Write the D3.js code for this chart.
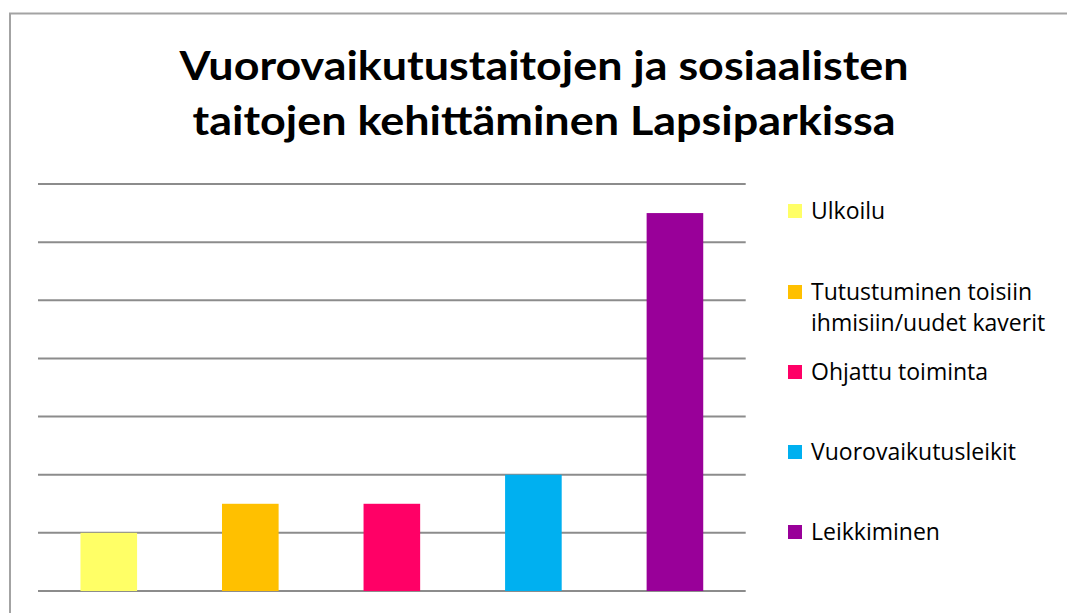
<!DOCTYPE html>
<html>
<head>
<meta charset="utf-8">
<script src="https://cdn.jsdelivr.net/npm/d3@7"></script>
<style>
  html, body { margin: 0; padding: 0; background: #fff; }
  svg { display: block; }
</style>
</head>
<body>
<svg class="chart" width="1067" height="613"></svg>
<script>
// data
var categories = ["Ulkoilu", "Tutustuminen toisiin ihmisiin/uudet kaverit", "Ohjattu toiminta", "Vuorovaikutusleikit", "Leikkiminen"];
var values = [1, 1.5, 1.5, 2, 6.5];
var colors = ["#FFFF66", "#FFC000", "#FF0066", "#00B0F0", "#990099"];
var legendLines = [["Ulkoilu"], ["Tutustuminen toisiin", "ihmisiin/uudet kaverit"], ["Ohjattu toiminta"], ["Vuorovaikutusleikit"], ["Leikkiminen"]];
var gridTicks = [0, 1, 2, 3, 4, 5, 6, 7];
var titleLines = ["Vuorovaikutustaitojen ja sosiaalisten", "taitojen kehittäminen Lapsiparkissa"];

var svg = d3.select(".chart");

// outer frame (only top and left edges are visible in the window)
svg.append("rect")
    .attr("x", 10).attr("y", 13.5)
    .attr("width", 1100).attr("height", 700)
    .attr("fill", "none")
    .attr("stroke", "#a3a3a3")
    .attr("stroke-width", 2);

// title
var title = svg.append("g");
title.selectAll("text")
    .data(titleLines)
    .enter().append("text")
    .attr("x", 544)
    .attr("y", function(d, i) { return 80 + i * 55; })
    .attr("text-anchor", "middle")
    .attr("font-family", "Lato, 'Open Sans', sans-serif")
    .attr("font-weight", "bold")
    .attr("font-size", 41)
    .attr("textLength", function(d, i) { return i == 0 ? 729 : 703; })
    .attr("lengthAdjust", "spacingAndGlyphs")
    .attr("fill", "#000")
    .text(function(d) { return d; });

// scales
var x = d3.scaleBand()
    .domain(categories)
    .range([38, 745.7])
    .paddingInner(0.6)
    .paddingOuter(0.3);

var y = d3.scaleLinear()
    .domain([0, 7])
    .range([591, 184]);

// gridlines
svg.append("g")
    .selectAll("line")
    .data(gridTicks)
    .enter().append("line")
    .attr("x1", 38).attr("x2", 745.7)
    .attr("y1", function(d) { return y(d); })
    .attr("y2", function(d) { return y(d); })
    .attr("stroke", "#8c8c8c")
    .attr("stroke-width", 2);

// bars
svg.append("g")
    .selectAll("rect")
    .data(values)
    .enter().append("rect")
    .attr("x", function(d, i) { return x(categories[i]); })
    .attr("y", function(d) { return y(d); })
    .attr("width", x.bandwidth())
    .attr("height", function(d) { return y(0) - y(d); })
    .attr("fill", function(d, i) { return colors[i]; });

// legend
var legendY = [219, 300, 380, 460, 540];
var legend = svg.append("g")
    .selectAll("g")
    .data(categories)
    .enter().append("g")
    .attr("transform", function(d, i) { return "translate(788," + legendY[i] + ")"; });

legend.append("rect")
    .attr("x", 0).attr("y", -15)
    .attr("width", 14).attr("height", 14)
    .attr("fill", function(d, i) { return colors[i]; });

legend.each(function(d, i) {
    var g = d3.select(this);
    var t = g.append("text")
        .attr("x", 23)
        .attr("y", 0)
        .attr("font-family", "'Open Sans', sans-serif")
        .attr("font-size", 23)
        .attr("fill", "#000");
    legendLines[i].forEach(function(line, j) {
        t.append("tspan")
            .attr("x", 23)
            .attr("y", j * 31)
            .text(line);
    });
});
</script>
</body>
</html>
